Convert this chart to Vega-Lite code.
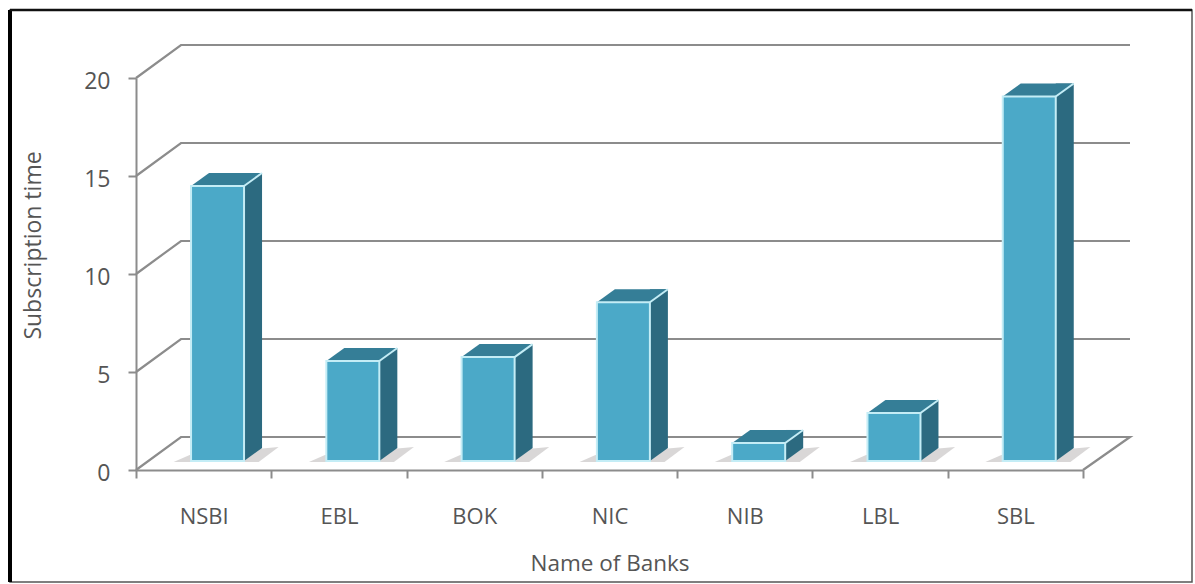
{
"$schema":"https://vega.github.io/schema/vega-lite/v6.json",
"width":1182,"height":572,
"autosize":{"type":"none"},
"padding":{"left":10,"top":10,"right":3,"bottom":2},
"background":"#ffffff",
"config":{"view":{"stroke":"#555555","strokeWidth":1.5},"font":"Open Sans"},
"data":{"values":[
{"bank":"NSBI","time":14.03},{"bank":"EBL","time":5.1},{"bank":"BOK","time":5.3},{"bank":"NIC","time":8.1},{"bank":"NIB","time":0.92},{"bank":"LBL","time":2.45},{"bank":"SBL","time":18.6}
]},
"encoding":{
"x":{"field":"bank","type":"nominal","sort":null,
"scale":{"type":"band","domain":["NSBI","EBL","BOK","NIC","NIB","LBL","SBL"],"range":[126,1073],"paddingInner":0,"paddingOuter":0},
"axis":{"title":"Name of Banks","labelAngle":0,"offset":-112,"domainColor":"#8c8c8c","domainWidth":2,"tickColor":"#8c8c8c","tickWidth":2,"tickSize":8,"tickBand":"extent","labelFontSize":22,"labelColor":"#555555","labelPadding":28,"titleFontSize":22.5,"titleFontWeight":"normal","titleColor":"#555555","titlePadding":25,"grid":false}},
"y":{"field":"time","type":"quantitative",
"scale":{"domain":[0,20],"range":[460,68],"nice":false,"zero":true},
"axis":{"title":"Subscription  time","values":[0,5,10,15,20],"offset":-126,"domainColor":"#8c8c8c","domainWidth":2,"tickColor":"#8c8c8c","tickWidth":2,"tickSize":8,"labelFontSize":23,"labelColor":"#555555","labelPadding":18,"labelOffset":3,"titleFontSize":23,"titleFontWeight":"normal","titleColor":"#555555","titleY":235,"titleX":-91,"grid":false}}
},
"layer":[
{"data":{"values":[{"tick":5},{"tick":10},{"tick":15},{"tick":20}]},
 "mark":{"type":"point","shape":"M0,0L45,-33L994,-33","size":4,"filled":false,"stroke":"#8c8c8c","strokeWidth":2.2,"opacity":1},
 "encoding":{"x":{"datum":"NSBI","bandPosition":0},"y":{"field":"tick","type":"quantitative"}}},
{"data":{"values":[{"tick":0}]},
 "mark":{"type":"point","shape":"M0,0L45,-33L994,-33L947,0","size":4,"filled":false,"stroke":"#8c8c8c","strokeWidth":2.2,"opacity":1},
 "encoding":{"x":{"datum":"NSBI","bandPosition":0},"y":{"field":"tick","type":"quantitative"}}},
{"mark":{"type":"point","shape":"M-30,-8L-14,-15L75,-23L55,-8Z","size":4,"filled":true,"fill":"#d9d7d7","opacity":1},
 "encoding":{"y":{"datum":0}}},
{"mark":{"type":"point","shape":"M40.4,-22L58.4,-22L40.4,-9Z","size":4,"filled":true,"fill":"#2c6a80","opacity":1},
 "encoding":{"y":{"datum":0}}},
{"mark":{"type":"bar","width":18,"xOffset":49.4,"yOffset":-22,"y2Offset":-22,"fill":"#2c6a80"}},
{"mark":{"type":"point","shape":"M-12.6,-9L40.4,-9L58.4,-22L5.4,-22Z","size":4,"filled":true,"fill":"#357e97","opacity":1}},
{"mark":{"type":"bar","width":53,"xOffset":13.9,"yOffset":-9,"y2Offset":-9,"fill":"#4ba9c8","stroke":"#c4edf6","strokeWidth":2}},
{"mark":{"type":"point","shape":"M40.4,-9L58.4,-22","size":4,"filled":false,"stroke":"#c4edf6","strokeWidth":2,"opacity":1}},
{"data":{"values":[{}]},"mark":{"type":"rule","stroke":"#000000","strokeWidth":4},"encoding":{"x":{"value":0},"y":null}},
{"data":{"values":[{}]},"mark":{"type":"rule","stroke":"#111111","strokeWidth":2.5},"encoding":{"y":{"value":0},"x":null}}
]
}
